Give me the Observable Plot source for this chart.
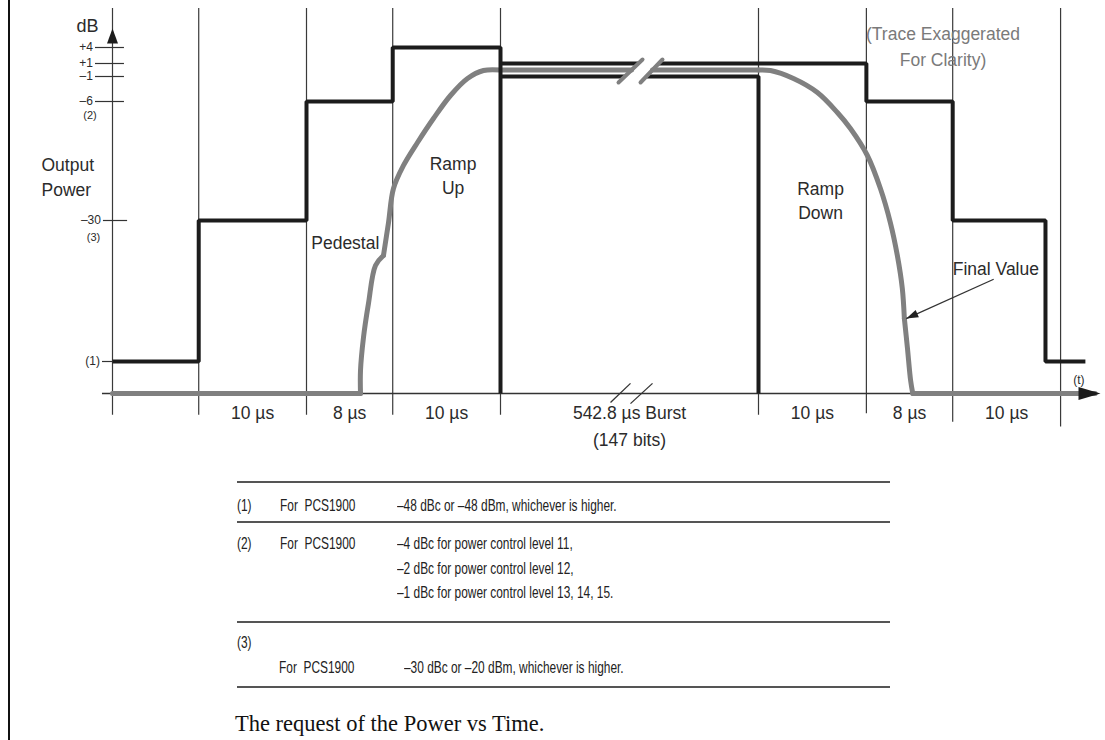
<!DOCTYPE html>
<html>
<head>
<meta charset="utf-8">
<script src="https://cdn.jsdelivr.net/npm/d3@7"></script>
<script src="https://cdn.jsdelivr.net/npm/@observablehq/plot@0.6"></script>
<style>
  body { margin: 0; background: #fff; }
  #page { position: relative; width: 1105px; height: 740px; overflow: hidden; background: #fff;
          font-family: "Liberation Sans", Arial, Helvetica, sans-serif; }
  #chart { position: absolute; left: 0; top: 0; }
  #frame { position: absolute; left: 8px; top: 0; width: 2px; height: 740px; background: #111; }
  .rule { position: absolute; left: 237px; width: 653px; height: 2px; background: #555; }
  .cell { position: absolute; font-size: 17px; line-height: 18px; white-space: pre; color: #222;
          transform: scaleX(0.70); transform-origin: 0 50%; }
  #caption { position: absolute; left: 235px; top: 713px; font-family: "Liberation Serif", "Times New Roman", serif;
             font-size: 22.5px; line-height: 22px; color: #111; white-space: pre; }
</style>
</head>
<body>
<div id="page">
  <div id="chart"></div>
  <div id="notes"></div>
  <div id="caption"></div>
  <div id="frame"></div>
</div>
<script>
// ================= DATA =================
// time in µs (burst compressed by a piecewise scale), power in dB
const segmentBounds = [-8, 0, 10, 18, 28, 570.8, 580.8, 588.8, 598.8];
const guideTop = 11.3;
const guideBottom = [-58.1, -58.1, -58.1, -58.1, -58.1, -58.1, -57.8, -59.4, -60.3];
const segmentLabels = ["", "10 µs", "8 µs", "10 µs", "542.8 µs Burst", "10 µs", "8 µs", "10 µs"];
const burstSubLabel = "(147 bits)";

const levelDb     = [4, 1, -1, -6, -30, -48];
const levelLabels = ["+4", "+1", "–1", "–6", "–30", "(1)"];
const levelTickFrom = [-9.58, -9.58, -9.58, -9.58, -8.84, -8.93];
const levelTickTo   = [-6.89, -6.89, -6.89, -6.89, -6.6, -8];
const levelNotes   = ["(2)", "(3)"];
const levelNoteT   = [-10.09, -9.76];
const levelNoteDb  = [-8.8, -32.2];

const baselineDb = -54;
const baselineFrom = -8.93, baselineTo = 601.5;

// black limit mask (step template)
const maskStep   = [[-8,-48],[0,-48],[0,-30],[10,-30],[10,-6],[18,-6],[18,4],[28,4],[28,-54]];
const maskTopA   = [[28,1],[318.2,1]];
const maskTopB   = [[360.5,1],[580.8,1],[580.8,-6],[588.8,-6],[588.8,-30],[597.4,-30],[597.4,-48],[601.1,-48]];
const maskLowA   = [[28,-1],[289.5,-1]];
const maskLowB   = [[334.6,-1],[570.8,-1],[570.8,-54]];

// grey measured trace
const traceBaseLeft  = [[-8,-54],[15.01,-54]];
const traceRiseLow   = [[15.01,-54],[15.01,-49.7],[15.29,-44.9],[15.75,-40.6],[16.40,-35.75],[17.14,-34.47]];
const traceRiseHigh  = [[17.14,-34.47],[17.61,-30.26],[18.07,-23.55],[19.0,-18.9],[20.30,-14.27],[21.78,-9.43],[23.36,-4.8],[24.94,-1.4],[26.42,-0.08],[28,0]];
const traceFlatA     = [[28,0],[303.6,0]];
const traceFlatB     = [[347.8,0],[570.8,0]];
const traceFallHigh  = [[570.8,0],[571.91,-0.08],[574.04,-1.4],[576.26,-4.2],[578.11,-8.22],[579.32,-11.45],[580.89,-16.89],[582.1,-23.55],[583.02,-30.26],[583.67,-34.47],[584.13,-38.68],[584.32,-42.52]];
const traceFallLow   = [[584.32,-42.52],[584.6,-46.2],[584.9,-51.56],[585.1,-54]];
const traceBaseRight = [[585.1,-54],[602.0,-54]];

// axis-break marks
const breakTop  = [[276.3,-2.2,326.8,1.75],[322.6,-2.2,368.8,1.75]];
const breakBase = [[259.4,-55.7,301.5,-52.1],[301.5,-55.9,347.8,-52.1]];

// annotations
const annText = ["Pedestal", "Ramp\nUp", "Ramp\nDown", "Final Value"];
const annT    = [13.6, 23.6, 576.55, 592.8];
const annDb   = [-32.7, -20.7, -25.8, -36.0];
const noteTrace = "(Trace Exaggerated\nFor Clarity)";
const noteTraceT = 587.9, noteTraceDb = 4.47;
const yTitle = "Output\nPower", yTitleT = -14.59, yTitleDb = -21.0;
const unitLabel = "dB", unitT = -10.32, unitDb = 7.94;
const timeLabel = "(t)", timeLabelT = 600.5, timeLabelDb = -51.56;
const finalArrow = {t1: 592.6, db1: -37.5, t2: 584.5, db2: -42.52};

// footnote table
const noteIds = ["(1)", "(2)", "(3)"];
const noteBands = ["For  PCS1900", "For  PCS1900", "For  PCS1900"];
const noteTexts = [
  ["–48 dBc or –48 dBm, whichever is higher."],
  ["–4 dBc for power control level 11,", "–2 dBc for power control level 12,", "–1 dBc for power control level 13, 14, 15."],
  ["–30 dBc or –20 dBm, whichever is higher."]
];
const captionText = "The request of the Power vs Time.";

// ================= CHART =================
const pts = (arr, seg) => arr.map(([t, db]) => ({t, db, seg}));
const maskData = [...pts(maskStep,"s"), ...pts(maskTopA,"ta"), ...pts(maskTopB,"tb"), ...pts(maskLowA,"la"), ...pts(maskLowB,"lb")];
const traceLinear = [...pts(traceBaseLeft,"bl"), ...pts(traceFlatA,"fa"), ...pts(traceFlatB,"fb"), ...pts(traceBaseRight,"br")];
const traceCurved = [...pts(traceRiseLow,"rl"), ...pts(traceRiseHigh,"rh"), ...pts(traceFallHigh,"fh"), ...pts(traceFallLow,"fl")];
const guides = segmentBounds.map((t, i) => ({t, top: guideTop, bottom: guideBottom[i]}));
const levels = levelDb.map((db, i) => ({db, label: levelLabels[i], from: levelTickFrom[i], to: levelTickTo[i]}));
const notesL = levelNotes.map((s, i) => ({s, t: levelNoteT[i], db: levelNoteDb[i]}));
const segs = segmentLabels.map((s, i) => ({s, t: (segmentBounds[i] + segmentBounds[i+1]) / 2})).filter(d => d.s);
const burstMid = (segmentBounds[4] + segmentBounds[5]) / 2;
const anns = annText.map((s, i) => ({s, t: annT[i], db: annDb[i]}));
const brk = (arr) => arr.map(([t1, db1, t2, db2]) => ({t1, db1, t2, db2}));

const arrowHead = (len, wid) => ({
  draw(ctx, size) {
    const r = Math.sqrt(size / Math.PI);
    ctx.moveTo(0, 0);
    ctx.lineTo(-wid * r / 2, len * r);
    ctx.lineTo(wid * r / 2, len * r);
    ctx.closePath();
  }
});

const ink = "#1c1c1c", grey = "#808080", textInk = "#2b2b2b";

const chart = Plot.plot({
  width: 1105,
  height: 460,
  style: {background: "transparent", fontFamily: '"Liberation Sans", Arial, Helvetica, sans-serif', overflow: "visible"},
  x: {type: "linear", domain: [-8, 28, 570.8, 602.5], range: [112, 500, 758, 1100], axis: null},
  y: {type: "linear", domain: [-54, -48, -30, -6, -1, 1, 4], range: [393, 361, 220, 101, 76, 63, 47], axis: null},
  marks: [
    Plot.ruleX(guides, {x: "t", y1: "top", y2: "bottom", stroke: "#3a3a3a", strokeWidth: 1.2}),
    Plot.ruleY([baselineDb], {x1: baselineFrom, x2: baselineTo, stroke: "#333", strokeWidth: 1.5}),
    Plot.ruleY(levels, {y: "db", x1: "from", x2: "to", stroke: "#333", strokeWidth: 1.2}),
    Plot.link(brk(breakBase), {x1: "t1", y1: "db1", x2: "t2", y2: "db2", stroke: "#333", strokeWidth: 1.3}),
    Plot.line(traceLinear, {x: "t", y: "db", z: "seg", stroke: grey, strokeWidth: 5, strokeLinecap: "round"}),
    Plot.line(traceCurved, {x: "t", y: "db", z: "seg", stroke: grey, strokeWidth: 5, curve: "catmull-rom", strokeLinecap: "round"}),
    Plot.line(maskData, {x: "t", y: "db", z: "seg", stroke: ink, strokeWidth: 4, strokeLinejoin: "miter", strokeLinecap: "butt"}),
    Plot.link(brk(breakTop), {x1: "t1", y1: "db1", x2: "t2", y2: "db2", stroke: grey, strokeWidth: 4, strokeLinecap: "round"}),
    Plot.dot([{t: segmentBounds[0], db: 7.56}], {x: "t", y: "db", r: 1, symbol: arrowHead(15, 11), fill: ink, stroke: "none"}),
    Plot.dot([{t: 602.5, db: baselineDb}], {x: "t", y: "db", r: 1, symbol: arrowHead(22, 13), rotate: 90, fill: ink, stroke: "none"}),
    Plot.link([finalArrow], {x1: "t1", y1: "db1", x2: "t2", y2: "db2", stroke: "#333", strokeWidth: 1.3}),
    Plot.dot([finalArrow], {x: "t2", y: "db2", r: 1, symbol: arrowHead(12, 8), rotate: 246, fill: "#222", stroke: "none"}),
    Plot.text([unitLabel], {x: unitT, y: unitDb, text: d => d, fontSize: 18, fill: textInk}),
    Plot.text([yTitle], {x: yTitleT, y: yTitleDb, text: d => d, textAnchor: "start", fontSize: 17.5, lineHeight: 1.43, fill: textInk}),
    Plot.text(levels, {x: "from", y: "db", text: "label", textAnchor: "end", dx: -2.5, fontSize: 12, fill: textInk}),
    Plot.text(notesL, {x: "t", y: "db", text: "s", fontSize: 11, fill: textInk}),
    Plot.text(segs, {x: "t", y: -57.75, text: "s", fontSize: 17.5, fill: textInk}),
    Plot.text([burstSubLabel], {x: burstMid, y: -62.8, text: d => d, fontSize: 17.5, fill: textInk}),
    Plot.text(anns, {x: "t", y: "db", text: "s", fontSize: 17.5, lineHeight: 1.37, fill: textInk}),
    Plot.text([noteTrace], {x: noteTraceT, y: noteTraceDb, text: d => d, fontSize: 17.5, lineHeight: 1.43, fill: "#7a7a7a"}),
    Plot.text([timeLabel], {x: timeLabelT, y: timeLabelDb, text: d => d, fontSize: 12, fill: textInk})
  ]
});
document.getElementById("chart").appendChild(chart);

// ================= FOOTNOTES =================
const notes = document.getElementById("notes");
const rulesY = [482, 522, 622, 687];
const idY = [506, 544, 643];
const bandY = [506, 544, 668];
const bandX = [280, 280, 279];
const textX = [397, 397, 404];
const lineStep = 24.5;
rulesY.forEach(y => {
  const r = document.createElement("div");
  r.className = "rule";
  r.style.top = (y - 1) + "px";
  notes.appendChild(r);
});
const cell = (txt, x, y) => {
  const c = document.createElement("div");
  c.className = "cell";
  c.textContent = txt;
  c.style.left = x + "px";
  c.style.top = (y - 9) + "px";
  notes.appendChild(c);
};
noteIds.forEach((id, i) => {
  cell(id, 237, idY[i]);
  cell(noteBands[i], bandX[i], bandY[i]);
  noteTexts[i].forEach((line, j) => cell(line, textX[i], bandY[i] + j * lineStep));
});
document.getElementById("caption").textContent = captionText;
</script>
</body>
</html>
